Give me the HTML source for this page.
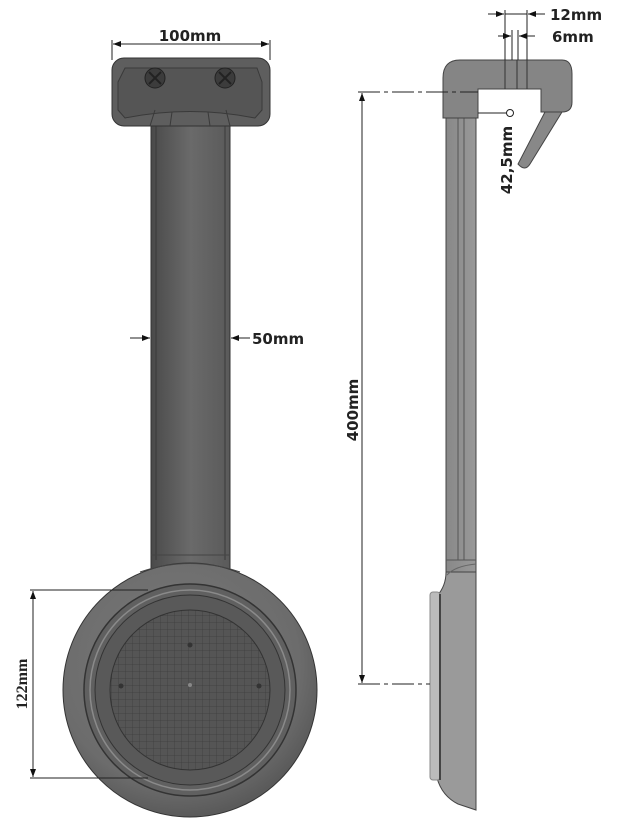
<!DOCTYPE html>
<html><head><meta charset="utf-8"><style>
html,body{margin:0;padding:0;background:#fff;}
svg{display:block;}
text{font-family:"DejaVu Sans","Liberation Sans",sans-serif;font-weight:bold;fill:#222;}
</style></head><body>
<svg width="620" height="823" viewBox="0 0 620 823" xmlns="http://www.w3.org/2000/svg">
<defs>
<linearGradient id="stem" x1="0" x2="1"><stop offset="0" stop-color="#4a4a4a"/><stop offset="0.5" stop-color="#6a6a6a"/><stop offset="1" stop-color="#5a5a5a"/></linearGradient>
<radialGradient id="disk" cx="0.45" cy="0.4" r="0.6"><stop offset="0" stop-color="#7a7a7a"/><stop offset="0.8" stop-color="#6c6c6c"/><stop offset="1" stop-color="#5a5a5a"/></radialGradient>
<linearGradient id="bar" x1="0" x2="1"><stop offset="0" stop-color="#888"/><stop offset="1" stop-color="#999"/></linearGradient>
<pattern id="grid" width="7" height="7" patternUnits="userSpaceOnUse"><rect width="7" height="7" fill="#555"/><path d="M7 0V7M0 7H7" stroke="#3d3d3d" stroke-width="0.8"/></pattern>
<marker id="ar" markerWidth="8" markerHeight="6" refX="8" refY="3" orient="auto"><path d="M0 0L8 3L0 6z" fill="#111"/></marker>
</defs>

<!-- LEFT VIEW -->
<rect x="151" y="118" width="79" height="460" fill="url(#stem)" stroke="#333"/>
<line x1="156" y1="118" x2="156" y2="560" stroke="#3a3a3a"/>
<line x1="225" y1="118" x2="225" y2="560" stroke="#3a3a3a"/>
<line x1="151" y1="555" x2="230" y2="555" stroke="#444"/>
<circle cx="190" cy="690" r="127" fill="url(#disk)" stroke="#333"/>
<path d="M140 572 Q190 555 240 572" fill="none" stroke="#444"/>
<circle cx="190" cy="690" r="106" fill="#606060" stroke="#333" stroke-width="1.5"/>
<circle cx="190" cy="690" r="100" fill="none" stroke="#8a8a8a" stroke-width="1.5"/>
<circle cx="190" cy="690" r="95" fill="#595959" stroke="#333"/>
<circle cx="190" cy="690" r="80" fill="url(#grid)" stroke="#333"/>
<circle cx="190" cy="645" r="2.5" fill="#333"/><circle cx="121" cy="686" r="2.5" fill="#333"/><circle cx="259" cy="686" r="2.5" fill="#333"/><circle cx="190" cy="685" r="2" fill="#888"/>
<rect x="112" y="58" width="158" height="68" rx="12" fill="#5e5e5e" stroke="#333"/>
<path d="M125 68 H257 L262 82 V110 L255 118 Q190 105 125 118 L118 110 V82z" fill="#555" stroke="#3a3a3a"/>
<path d="M150 126 L155 110 M230 126 L226 110 M170 126 L172 112 M210 126 L208 112" stroke="#3a3a3a"/>
<circle cx="155" cy="78" r="10" fill="#3c3c3c" stroke="#222"/><path d="M149 72L161 84M161 72L149 84" stroke="#222" stroke-width="2"/>
<circle cx="225" cy="78" r="10" fill="#3c3c3c" stroke="#222"/><path d="M219 72L231 84M231 72L219 84" stroke="#222" stroke-width="2"/>

<!-- dims left -->
<line x1="112" y1="40" x2="112" y2="60" stroke="#222"/><line x1="270" y1="40" x2="270" y2="60" stroke="#222"/>
<line x1="190" y1="44" x2="113" y2="44" stroke="#222" marker-end="url(#ar)"/>
<line x1="190" y1="44" x2="269" y2="44" stroke="#222" marker-end="url(#ar)"/>
<text x="190" y="41" font-size="15" text-anchor="middle">100mm</text>
<line x1="130" y1="338" x2="150" y2="338" stroke="#222" marker-end="url(#ar)"/>
<line x1="250" y1="338" x2="231" y2="338" stroke="#222" marker-end="url(#ar)"/>
<text x="252" y="344" font-size="15">50mm</text>
<line x1="30" y1="590" x2="148" y2="590" stroke="#222"/><line x1="30" y1="778" x2="148" y2="778" stroke="#222"/>
<line x1="33" y1="684" x2="33" y2="591" stroke="#222" marker-end="url(#ar)"/>
<line x1="33" y1="684" x2="33" y2="777" stroke="#222" marker-end="url(#ar)"/>
<text transform="translate(27,684) rotate(-90)" font-size="16" text-anchor="middle" style="font-family:'Liberation Serif',serif">122mm</text>

<!-- RIGHT VIEW -->
<rect x="446" y="100" width="30" height="480" fill="url(#bar)" stroke="#444"/>
<line x1="458" y1="118" x2="458" y2="560" stroke="#555"/><line x1="464" y1="118" x2="464" y2="560" stroke="#555"/>
<line x1="446" y1="560" x2="476" y2="560" stroke="#555"/>
<path d="M446 572 Q446 586 437 596 V778 Q442 796 458 804 L476 810 V572z" fill="#9a9a9a" stroke="#444"/>
<path d="M447 575 Q455 566 476 564" fill="none" stroke="#666"/>
<rect x="430" y="592" width="10" height="188" rx="3" fill="#bbb" stroke="#888"/>
<line x1="440" y1="594" x2="440" y2="780" stroke="#444" stroke-width="2"/>
<path d="M443 78 Q443 60 460 60 H562 Q572 60 572 74 V102 Q572 112 562 112 H541 V89 H478 V118 H443z" fill="#858585" stroke="#444"/>
<path d="M545 112 L562 112 L530 164 Q525 172 518 164 Z" fill="#888" stroke="#444"/>
<line x1="505" y1="60" x2="505" y2="89" stroke="#333"/><line x1="517" y1="60" x2="517" y2="89" stroke="#333"/><line x1="527" y1="60" x2="527" y2="89" stroke="#333"/>

<!-- dims right -->
<line x1="505" y1="10" x2="505" y2="60" stroke="#222"/><line x1="527" y1="10" x2="527" y2="60" stroke="#222"/>
<line x1="488" y1="14" x2="504" y2="14" stroke="#222" marker-end="url(#ar)"/>
<line x1="545" y1="14" x2="528" y2="14" stroke="#222" marker-end="url(#ar)"/>
<line x1="505" y1="14" x2="527" y2="14" stroke="#222"/>
<text x="550" y="20" font-size="15">12mm</text>
<line x1="512" y1="30" x2="512" y2="60" stroke="#222"/><line x1="518" y1="30" x2="518" y2="60" stroke="#222"/>
<line x1="498" y1="36" x2="511" y2="36" stroke="#222" marker-end="url(#ar)"/>
<line x1="535" y1="36" x2="519" y2="36" stroke="#222" marker-end="url(#ar)"/>
<text x="552" y="42" font-size="15">6mm</text>
<line x1="358" y1="92" x2="478" y2="92" stroke="#222" stroke-dasharray="22,4,4,4"/>
<line x1="358" y1="684" x2="430" y2="684" stroke="#222" stroke-dasharray="22,4,4,4"/>
<line x1="362" y1="390" x2="362" y2="93" stroke="#222" marker-end="url(#ar)"/>
<line x1="362" y1="390" x2="362" y2="683" stroke="#222" marker-end="url(#ar)"/>
<text transform="translate(358,410) rotate(-90)" font-size="15" text-anchor="middle">400mm</text>
<line x1="478" y1="113" x2="507" y2="113" stroke="#222"/>
<circle cx="510" cy="113" r="3.5" fill="#fff" stroke="#222"/>
<text transform="translate(512,160) rotate(-90)" font-size="15" text-anchor="middle">42,5mm</text>
</svg>
</body></html>
